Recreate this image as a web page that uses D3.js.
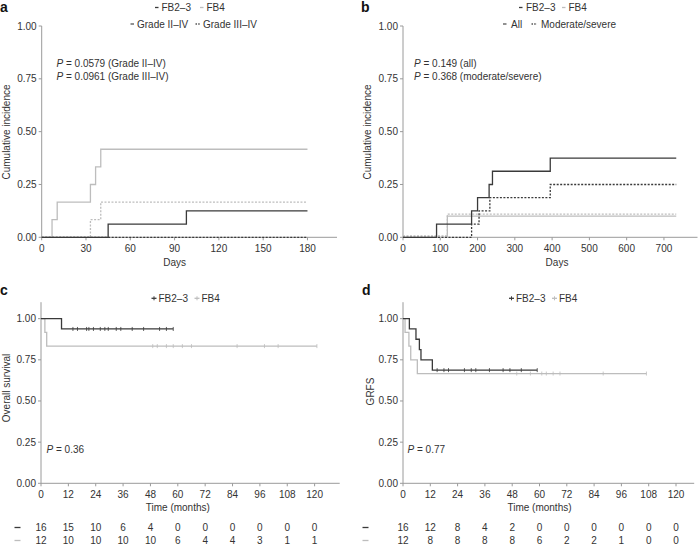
<!DOCTYPE html>
<html>
<head>
<meta charset="utf-8">
<script src="https://cdn.jsdelivr.net/npm/d3@7/dist/d3.min.js"></script>
<style>
body{margin:0;background:#fff;}
svg{display:block;font-family:"Liberation Sans",Arial,Helvetica,sans-serif;}
</style>
</head>
<body>
<svg id="chart" width="699" height="547"></svg>
<script>
// ---------- DATA ----------
const yTicksCI = [0, 0.25, 0.5, 0.75, 1];
const aTicksX = [0, 30, 60, 90, 120, 150, 180];
const bTicksX = [0, 100, 200, 300, 400, 500, 600, 700];
const monthTicks = [0, 12, 24, 36, 48, 60, 72, 84, 96, 108, 120];

// Panel a: acute GVHD cumulative incidence [day, value]
const aFB23GradeII_IV = [[0,0],[45,0.0625],[98,0.125],[180,0.125]];
const aFB23GradeIII_IV = [[0,0],[180,0]];
const aFB4GradeII_IV = [[0,0],[7,0.0833],[10.5,0.1667],[33,0.25],[36.5,0.3333],[40,0.4167],[180,0.4167]];
const aFB4GradeIII_IV = [[0,0],[33,0.0833],[40,0.1667],[180,0.1667]];
const aPText = ["= 0.0579 (Grade II\u2013IV)", "= 0.0961 (Grade III\u2013IV)"];

// Panel b: chronic GVHD cumulative incidence
const bFB23All = [[0,0],[90,0.0625],[184,0.125],[200,0.1875],[231,0.25],[240,0.3125],[395,0.375],[733,0.375]];
const bFB23Mod = [[0,0],[184,0.0625],[204,0.125],[233,0.1875],[395,0.25],[733,0.25]];
const bFB4All = [[0,0],[119,0.1],[733,0.1]];
const bFB4Mod = [[0,0.007],[119,0.11],[733,0.11]];
const bPText = ["= 0.149 (all)", "= 0.368 (moderate/severe)"];

// Panel c: overall survival
const cFB23 = [[0,1],[9,0.9375],[58,0.9375]];
const cFB23Censor = [14,16,20,21,23,26,28,29.5,33,35,40,45,52,55,58];
const cFB4 = [[0,1],[1.7,0.9167],[2.5,0.8333],[121,0.8333]];
const cFB4Censor = [49,51,55,58,62,66,86,98,104,121];
const cRiskFB23 = [16,15,10,6,4,0,0,0,0,0,0];
const cRiskFB4 = [12,10,10,10,10,6,4,4,3,1,1];

// Panel d: GRFS
const dFB23 = [[0,1],[2.8,0.9375],[5.7,0.875],[7.2,0.8125],[7.9,0.75],[12.9,0.6875],[59,0.6875]];
const dFB23Censor = [15,18,20,27,30,32,38,44,47,52,59];
const dFB4 = [[0,1],[0.9,0.9167],[2.6,0.8333],[3.4,0.75],[6.3,0.6667],[107,0.6667]];
const dFB4Censor = [50,56,61,63,66,69,88,107];
const dRiskFB23 = [16,12,8,4,2,0,0,0,0,0,0];
const dRiskFB4 = [12,8,8,8,8,6,2,2,1,0,0];

// ---------- STYLE ----------
const DARK = "#3a3a3a";
const LIGHT = "#bdbdbd";
const AXIS = "#9a9a9a";
const TXT = "#333";
const FS = 10;

const svg = d3.select("#chart");

function stepLine(x, y) {
  return d3.line().x(d => x(d[0])).y(d => y(d[1])).curve(d3.curveStepAfter);
}

function axes(g, x, y, xTicks, yTicks, xFmt, yTop) {
  const x0 = x.range()[0], x1 = x.range()[1];
  const y0 = y.range()[0];
  const yt = y(yTop);
  g.append("line").attr("x1", x0).attr("x2", x0).attr("y1", yt).attr("y2", y0)
    .attr("stroke", AXIS).attr("stroke-width", 1);
  g.append("line").attr("x1", x0).attr("x2", x1).attr("y1", y0).attr("y2", y0)
    .attr("stroke", AXIS).attr("stroke-width", 1);
  yTicks.forEach(t => {
    g.append("line").attr("x1", x0 - 3).attr("x2", x0).attr("y1", y(t)).attr("y2", y(t)).attr("stroke", AXIS);
    g.append("text").attr("x", x0 - 5).attr("y", y(t)).attr("text-anchor", "end")
      .attr("dominant-baseline", "central").attr("font-size", FS).attr("fill", TXT)
      .text(d3.format(".2f")(t));
  });
  xTicks.forEach(t => {
    g.append("line").attr("x1", x(t)).attr("x2", x(t)).attr("y1", y0).attr("y2", y0 + 3).attr("stroke", AXIS);
    g.append("text").attr("x", x(t)).attr("y", y0 + 11).attr("text-anchor", "middle")
      .attr("dominant-baseline", "central").attr("font-size", FS).attr("fill", TXT)
      .text(xFmt ? xFmt(t) : t);
  });
}

function label(g, x, y, txt, opts = {}) {
  const t = g.append("text").attr("x", x).attr("y", y).attr("font-size", opts.size || FS)
    .attr("fill", opts.fill || TXT).attr("text-anchor", opts.anchor || "start")
    .attr("dominant-baseline", "central");
  if (opts.bold) t.attr("font-weight", "bold");
  t.text(txt);
  return t;
}

function ylabel(g, x, y, txt) {
  g.append("text").attr("transform", `translate(${x},${y}) rotate(-90)`)
    .attr("text-anchor", "middle").attr("dominant-baseline", "central")
    .attr("font-size", FS).attr("fill", TXT).text(txt);
}

function pText(g, x, y, rest) {
  const t = g.append("text").attr("x", x).attr("y", y).attr("font-size", FS).attr("fill", TXT)
    .attr("dominant-baseline", "central");
  t.append("tspan").attr("font-style", "italic").text("P");
  t.append("tspan").text(" " + rest);
}

function legMark(g, x1, x2, y, color, dash, censor) {
  g.append("line").attr("x1", x1).attr("x2", x2).attr("y1", y).attr("y2", y)
    .attr("stroke", color).attr("stroke-width", 1.3).attr("stroke-dasharray", dash || null);
  if (censor) {
    const m = (x1 + x2) / 2;
    g.append("line").attr("x1", m).attr("x2", m).attr("y1", y - 2).attr("y2", y + 2)
      .attr("stroke", color).attr("stroke-width", 1);
  }
}

function drawCurve(g, data, x, y, color, dash) {
  g.append("path").datum(data).attr("d", stepLine(x, y)).attr("fill", "none")
    .attr("stroke", color).attr("stroke-width", 1.3).attr("stroke-dasharray", dash || null);
}

function drawCensor(g, times, curve, x, y, color) {
  const valAt = t => { let v = curve[0][1]; curve.forEach(p => { if (p[0] <= t) v = p[1]; }); return v; };
  times.forEach(t => {
    const v = valAt(t);
    g.append("line").attr("x1", x(t)).attr("x2", x(t)).attr("y1", y(v) - 2).attr("y2", y(v) + 2)
      .attr("stroke", color).attr("stroke-width", 0.8);
  });
}

// ---------- PANEL A ----------
{
  const g = svg.append("g");
  const x = d3.scaleLinear().domain([0, 200]).range([41.7, 337]);
  const y = d3.scaleLinear().domain([0, 1]).range([237.3, 26]);
  axes(g, x, y, aTicksX, yTicksCI, null, 1);
  drawCurve(g, aFB4GradeII_IV, x, y, LIGHT);
  drawCurve(g, aFB4GradeIII_IV, x, y, LIGHT, "2,1.5");
  drawCurve(g, aFB23GradeII_IV, x, y, DARK);
  drawCurve(g, aFB23GradeIII_IV, x, y, DARK, "2,1.5");
  label(g, 0, 7, "a", {size: 14, bold: true, fill: "#111"});
  ylabel(g, 6, 132, "Cumulative incidence");
  label(g, x(90), 262, "Days", {anchor: "middle"});
  pText(g, 56.5, 63, aPText[0]);
  pText(g, 56.5, 76, aPText[1]);
  // legend
  legMark(g, 155, 158.5, 7.5, DARK);
  label(g, 161.5, 7.5, "FB2\u20133");
  legMark(g, 200, 203.5, 7.5, LIGHT);
  label(g, 206.5, 7.5, "FB4");
  legMark(g, 130.5, 134, 24, "#555");
  label(g, 137, 24, "Grade II\u2013IV");
  legMark(g, 195.5, 200.5, 24, "#555", "1.5,1.2");
  label(g, 203, 24, "Grade III\u2013IV");
}

// ---------- PANEL B ----------
{
  const g = svg.append("g");
  const x = d3.scaleLinear().domain([0, 790]).range([403, 697.5]);
  const y = d3.scaleLinear().domain([0, 1]).range([237.3, 26]);
  axes(g, x, y, bTicksX, yTicksCI, null, 1);
  drawCurve(g, bFB4All, x, y, LIGHT);
  drawCurve(g, bFB4Mod, x, y, LIGHT, "2,1.5");
  drawCurve(g, bFB23Mod, x, y, DARK, "2,1.5");
  drawCurve(g, bFB23All, x, y, DARK);
  label(g, 361, 7, "b", {size: 14, bold: true, fill: "#111"});
  ylabel(g, 367, 132, "Cumulative incidence");
  label(g, 557, 262, "Days", {anchor: "middle"});
  pText(g, 414, 63, bPText[0]);
  pText(g, 414, 76, bPText[1]);
  legMark(g, 519, 522.5, 7.5, DARK);
  label(g, 526, 7.5, "FB2\u20133");
  legMark(g, 562, 565.5, 7.5, LIGHT);
  label(g, 568.5, 7.5, "FB4");
  legMark(g, 503, 506.5, 24, "#555");
  label(g, 511, 24, "All");
  legMark(g, 531.5, 537, 24, "#555", "1.5,1.2");
  label(g, 541, 24, "Moderate/severe");
}

// ---------- PANELS C & D ----------
function survivalPanel(opts) {
  const g = svg.append("g");
  const x = d3.scaleLinear().domain([0, opts.xMax]).range([opts.x0, opts.x1]);
  const y = d3.scaleLinear().domain([0, 1.1]).range([483.3, 302.2]);
  axes(g, x, y, monthTicks, yTicksCI, null, 1.1);
  drawCurve(g, opts.fb4, x, y, LIGHT);
  drawCensor(g, opts.fb4Censor, opts.fb4, x, y, LIGHT);
  drawCurve(g, opts.fb23, x, y, DARK);
  drawCensor(g, opts.fb23Censor, opts.fb23, x, y, DARK);
  label(g, opts.labX, 290, opts.letter, {size: 14, bold: true, fill: "#111"});
  ylabel(g, opts.ylabX, opts.ylabY, opts.ylab);
  label(g, x(60), 507.7, "Time (months)", {anchor: "middle"});
  pText(g, opts.pX, 449, opts.p);
  // legend
  legMark(g, opts.legX, opts.legX + 5, 298.3, DARK, null, true);
  label(g, opts.legX + 7, 298.3, "FB2\u20133");
  legMark(g, opts.legX + 43, opts.legX + 48, 298.3, LIGHT, null, true);
  label(g, opts.legX + 50, 298.3, "FB4");
  // risk table
  legMark(g, opts.riskMX, opts.riskMX + 6, 527.5, DARK);
  legMark(g, opts.riskMX, opts.riskMX + 6, 540.5, LIGHT);
  monthTicks.forEach((t, i) => {
    label(g, x(t), 527.5, String(opts.risk23[i]), {anchor: "middle"});
    label(g, x(t), 540.5, String(opts.risk4[i]), {anchor: "middle"});
  });
}

survivalPanel({
  xMax: 131, x0: 41, x1: 339.7, letter: "c", labX: 0, ylabX: 6, ylabY: 388,
  ylab: "Overall survival", pX: 46.5, p: "= 0.36", legX: 151.5,
  fb23: cFB23, fb23Censor: cFB23Censor, fb4: cFB4, fb4Censor: cFB4Censor,
  risk23: cRiskFB23, risk4: cRiskFB4, riskMX: 14.5
});
survivalPanel({
  xMax: 128, x0: 403, x1: 694.2, letter: "d", labX: 362, ylabX: 370, ylabY: 391.5,
  ylab: "GRFS", pX: 407.5, p: "= 0.77", legX: 509,
  fb23: dFB23, fb23Censor: dFB23Censor, fb4: dFB4, fb4Censor: dFB4Censor,
  risk23: dRiskFB23, risk4: dRiskFB4, riskMX: 362.5
});
</script>
</body>
</html>
